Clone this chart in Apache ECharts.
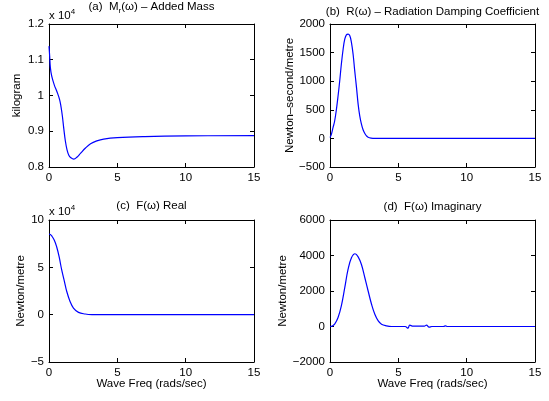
<!DOCTYPE html>
<html><head><meta charset="utf-8">
<script src="https://cdn.jsdelivr.net/npm/echarts@6/dist/echarts.min.js"></script>
<style>html,body{margin:0;padding:0;background:#fff}#c{width:549px;height:401px}</style>
</head><body><div id="c"></div>
<script>
// ---------- data ----------
// (a) Added mass, in units of 1e4 kg
const massX = [0, 0.05, 0.1, 0.2, 0.39, 0.59, 0.78, 0.88, 0.98, 1.08, 1.2, 1.32, 1.45, 1.6, 1.81, 2.06, 2.3, 2.67, 3.04, 3.5, 4, 5, 7, 10, 15];
const massY = [1.138, 1.11, 1.078, 1.054, 1.029, 1.010, 0.988, 0.968, 0.942, 0.908, 0.872, 0.848, 0.833, 0.826, 0.822, 0.828, 0.838, 0.853, 0.865, 0.873, 0.878, 0.882, 0.885, 0.887, 0.888];
// (b) Radiation damping coefficient, N s/m
const dampX = [0, 0.1, 0.22, 0.34, 0.47, 0.59, 0.71, 0.83, 0.96, 1.08, 1.2, 1.32, 1.45, 1.57, 1.69, 1.81, 1.94, 2.06, 2.18, 2.30, 2.42, 2.55, 2.67, 2.79, 3.0, 3.3, 4, 6, 8, 10, 12, 15];
const dampY = [15, 70, 187, 304, 508, 742, 1004, 1296, 1559, 1734, 1810, 1822, 1793, 1676, 1472, 1180, 888, 596, 390, 250, 150, 85, 45, 20, 5, 0, 0, 0, 0, 0, 0, 0];
// (c) F(w) real, in units of 1e4 N/m
const realX = [0, 0.1, 0.2, 0.39, 0.56, 0.74, 0.93, 1.13, 1.30, 1.54, 1.79, 2.16, 2.65, 3.14, 4, 6, 8, 10, 12, 15];
const realY = [8.50, 8.47, 8.32, 7.87, 7.17, 6.12, 4.72, 3.50, 2.45, 1.40, 0.70, 0.24, 0.07, 0.01, 0, 0, 0, 0, 0, 0];
// (d) F(w) imaginary, N/m
const imagX = [0, 0.17, 0.34, 0.59, 0.83, 1.08, 1.32, 1.57, 1.83, 2.06, 2.30, 2.55, 2.79, 3.04, 3.28, 3.53, 3.77, 4.14, 4.5, 5.5, 5.71, 5.83, 6.08, 6.9, 7.06, 7.25, 7.45, 8.3, 8.46, 8.6, 10, 12, 15];
const imagY = [0, 30, 131, 505, 1159, 2187, 3215, 3869, 4100, 3925, 3495, 2747, 2000, 1252, 692, 318, 131, 37, 0, 0, -93, 75, 19, 20, 75, -37, 0, 0, 40, 0, 0, 0, 0];

// axis ranges [min, max, interval]
const xRange = [0, 15, 5];
const yRanges = [[0.8, 1.2, 0.1], [-500, 2000, 500], [-5, 10, 5], [-2000, 6000, 2000]];
const yNames = ['kilogram', 'Newton\u2013second/metre', 'Newton/metre', 'Newton/metre'];
const xName = 'Wave Freq (rads/sec)';
const titles = ['{n|(a)  M}{sub|r}{n|(\u03c9) \u2013 Added Mass}', '{n|(b)  R(\u03c9) \u2013 Radiation Damping Coefficient}', '{n|(c)  F(\u03c9) Real}', '{n|(d)  F(\u03c9) Imaginary}'];
const expText = '{n|x 10}{sup|4}';

// ---------- layout / styling ----------
const FONT = "'Liberation Sans', Arial, Helvetica, sans-serif";
const FS = 11.5;
const grids = [
  {left: 49, top: 24, width: 205, height: 143},
  {left: 330, top: 24, width: 205, height: 143},
  {left: 49, top: 220, width: 205, height: 142},
  {left: 330, top: 220, width: 205, height: 142}
];
const yNameGap = [26, 34, 22, 41];
const titlePos = [[151.5, 7], [432.5, 12], [151.5, 206], [432.5, 207]];
const expPos = [[49, 16], [49, 212]];

const fmt = v => String(+v.toFixed(6)).replace('-', '\u2212');
const lineBlack = {show: true, onZero: false, lineStyle: {color: '#000', width: 1}};
const tickIn = {show: true, inside: true, length: 4, lineStyle: {color: '#000', width: 1}};
const lbl = {color: '#000', fontSize: FS, fontFamily: FONT, margin: 5, formatter: fmt,
  showMinLabel: true, showMaxLabel: true};
const nameStyle = {color: '#000', fontSize: FS, fontFamily: FONT};

const xAxis = [], yAxis = [], series = [];
const xs = [massX, dampX, realX, imagX], ys = [massY, dampY, realY, imagY];
for (let i = 0; i < 4; i++) {
  xAxis.push({gridIndex: i, type: 'value', position: 'bottom', min: xRange[0], max: xRange[1], interval: xRange[2],
    axisLine: lineBlack, axisTick: tickIn, axisLabel: lbl, splitLine: {show: false},
    name: i >= 2 ? xName : '', nameLocation: 'middle', nameGap: 16, nameTextStyle: nameStyle, nameMoveOverlap: false});
  xAxis.push({gridIndex: i, type: 'value', position: 'top', min: xRange[0], max: xRange[1], interval: xRange[2],
    axisLine: lineBlack, axisTick: tickIn, axisLabel: {show: false}, splitLine: {show: false}});
  const r = yRanges[i];
  yAxis.push({gridIndex: i, type: 'value', position: 'left', min: r[0], max: r[1], interval: r[2],
    axisLine: lineBlack, axisTick: tickIn, axisLabel: lbl, splitLine: {show: false},
    name: yNames[i], nameLocation: 'middle', nameGap: yNameGap[i], nameRotate: 90, nameTextStyle: nameStyle, nameMoveOverlap: false});
  yAxis.push({gridIndex: i, type: 'value', position: 'right', min: r[0], max: r[1], interval: r[2],
    axisLine: lineBlack, axisTick: tickIn, axisLabel: {show: false}, splitLine: {show: false}});
  series.push({type: 'line', xAxisIndex: 2 * i, yAxisIndex: 2 * i,
    data: xs[i].map((x, k) => [x, ys[i][k]]),
    showSymbol: false, smooth: 0.4, animation: false,
    lineStyle: {color: '#0000ff', width: 1.2}, itemStyle: {color: '#0000ff'}});
}

const rich = {
  n: {fontSize: FS, fontFamily: FONT, fill: '#000', lineHeight: 16, verticalAlign: 'middle'},
  sub: {fontSize: 8, fontFamily: FONT, fill: '#000', lineHeight: 8, verticalAlign: 'bottom'},
  sup: {fontSize: 8, fontFamily: FONT, fill: '#000', lineHeight: 8, verticalAlign: 'top'}
};
const graphics = [];
titles.forEach((t, i) => graphics.push({type: 'text', x: titlePos[i][0], y: titlePos[i][1],
  style: {text: t, align: 'center', verticalAlign: 'middle', fill: '#000', fontSize: FS, fontFamily: FONT, rich: rich}}));
expPos.forEach(p => graphics.push({type: 'text', x: p[0], y: p[1],
  style: {text: expText, align: 'left', verticalAlign: 'middle', fill: '#000', fontSize: FS, fontFamily: FONT, rich: rich}}));

const chart = echarts.init(document.getElementById('c'), null, {renderer: 'canvas'});
chart.setOption({
  animation: false,
  backgroundColor: '#fff',
  grid: grids,
  xAxis: xAxis,
  yAxis: yAxis,
  series: series,
  graphic: {elements: graphics}
});
</script>
</body></html>
